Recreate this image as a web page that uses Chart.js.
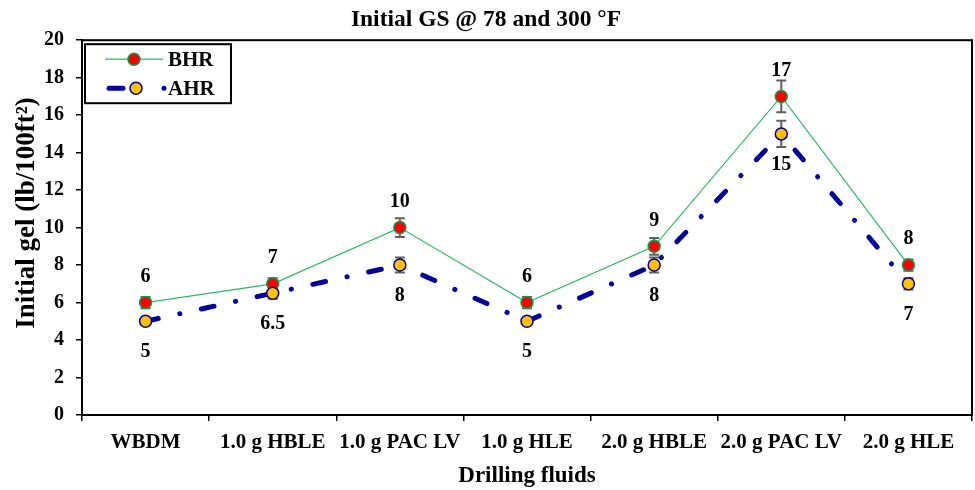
<!DOCTYPE html>
<html>
<head>
<meta charset="utf-8">
<script src="https://cdn.jsdelivr.net/npm/chart.js@4"></script>
<style>
    html, body { margin: 0; padding: 0; background: #fff; overflow: hidden; }
    #wrap { width: 975px; height: 490px; }
</style>
</head>
<body>
<div id="wrap"><canvas id="gel-chart"></canvas></div>
<script>
// Chart data
const categories = ['WBDM', '1.0 g HBLE', '1.0 g PAC LV', '1.0 g HLE', '2.0 g HBLE', '2.0 g PAC LV', '2.0 g HLE'];
const bhrValues = [6, 7, 10, 6, 9, 17, 8];
const ahrValues = [5, 6.5, 8, 5, 8, 15, 7];
const bhrErrors = [0.3, 0.3, 0.5, 0.3, 0.45, 0.85, 0.3];
const ahrErrors = [0.2, 0.3, 0.4, 0.2, 0.4, 0.7, 0.3];
const yTicks = [0, 2, 4, 6, 8, 10, 12, 14, 16, 18, 20];

const FONT = 'Liberation Serif, Times New Roman, serif';
const AHR_DASH = [13, 22, 0.1, 22];

// Error bars, value labels, y title and legend box drawn on the canvas
const extrasPlugin = {
    id: 'extras',
    beforeDatasetsDraw(chart) {
        const ctx = chart.ctx;
        const y = chart.scales.y;
        ctx.save();
        ctx.strokeStyle = '#606060';
        ctx.lineWidth = 2;
        [[0, bhrErrors], [1, ahrErrors]].forEach(([idx, errs]) => {
            const meta = chart.getDatasetMeta(idx);
            meta.data.forEach((pt, i) => {
                const v = chart.data.datasets[idx].data[i];
                const top = y.getPixelForValue(v + errs[i]);
                const bot = y.getPixelForValue(v - errs[i]);
                ctx.beginPath();
                ctx.moveTo(pt.x, top); ctx.lineTo(pt.x, bot);
                ctx.moveTo(pt.x - 5, top); ctx.lineTo(pt.x + 5, top);
                ctx.moveTo(pt.x - 5, bot); ctx.lineTo(pt.x + 5, bot);
                ctx.stroke();
            });
        });
        ctx.restore();
    },
    afterDatasetsDraw(chart) {
        const ctx = chart.ctx;
        const area = chart.chartArea;
        ctx.save();
        ctx.font = 'bold 20px ' + FONT;
        ctx.fillStyle = '#000';
        ctx.textAlign = 'center';
        ctx.textBaseline = 'middle';
        chart.getDatasetMeta(0).data.forEach((pt, i) => {
            ctx.fillText(String(bhrValues[i]), pt.x, pt.y - 26);
        });
        chart.getDatasetMeta(1).data.forEach((pt, i) => {
            ctx.fillText(String(ahrValues[i]), pt.x, pt.y + 31);
        });

        // y axis title
        ctx.save();
        ctx.translate(27, 213);
        ctx.rotate(-Math.PI / 2);
        ctx.font = 'bold 27px ' + FONT;
        ctx.fillText('Initial gel (lb/100ft²)', 0, 0);
        ctx.restore();

        // plot frame
        ctx.strokeStyle = '#000';
        ctx.lineWidth = 2;
        ctx.strokeRect(area.left, area.top, area.right - area.left, area.bottom - area.top);

        // legend box
        const lx = area.left + 3, ly = area.top + 4;
        ctx.lineWidth = 2;
        ctx.strokeRect(lx, ly, 146, 59);
        // BHR row
        ctx.strokeStyle = '#2EBB5E';
        ctx.lineWidth = 1.2;
        ctx.beginPath();
        ctx.moveTo(lx + 20, ly + 15); ctx.lineTo(lx + 78, ly + 15);
        ctx.stroke();
        ctx.beginPath();
        ctx.arc(lx + 49, ly + 15, 6, 0, Math.PI * 2);
        ctx.fillStyle = '#FF0000';
        ctx.fill();
        ctx.strokeStyle = '#00A050';
        ctx.lineWidth = 1.5;
        ctx.stroke();
        // AHR row
        ctx.strokeStyle = '#000099';
        ctx.lineWidth = 5;
        ctx.lineCap = 'round';
        ctx.beginPath();
        ctx.moveTo(lx + 24, ly + 44); ctx.lineTo(lx + 38, ly + 44);
        ctx.stroke();
        ctx.beginPath();
        ctx.arc(lx + 79, ly + 44, 2.5, 0, Math.PI * 2);
        ctx.fillStyle = '#000099';
        ctx.fill();
        ctx.beginPath();
        ctx.arc(lx + 51, ly + 44, 6, 0, Math.PI * 2);
        ctx.fillStyle = '#FFC000';
        ctx.fill();
        ctx.lineWidth = 1.5;
        ctx.stroke();

        ctx.fillStyle = '#000';
        ctx.textAlign = 'left';
        ctx.font = 'bold 21px ' + FONT;
        ctx.fillText('BHR', lx + 83, ly + 16);
        ctx.fillText('AHR', lx + 83, ly + 45);
        ctx.restore();
    }
};

const ctx = document.getElementById('gel-chart').getContext('2d');
new Chart(ctx, {
    type: 'line',
    data: {
        labels: categories,
        datasets: [{
            label: 'BHR',
            data: bhrValues,
            borderColor: '#2EBB5E',
            borderWidth: 1.2,
            pointBackgroundColor: '#FF0000',
            pointBorderColor: '#00A050',
            pointBorderWidth: 1.5,
            pointRadius: 6,
            tension: 0,
            order: 2
        }, {
            label: 'AHR',
            data: ahrValues,
            borderColor: '#000099',
            borderWidth: 5,
            borderDash: AHR_DASH,
            borderCapStyle: 'round',
            pointBackgroundColor: '#FFC000',
            pointBorderColor: '#000099',
            pointBorderWidth: 1.5,
            pointRadius: 6,
            tension: 0,
            order: 1
        }]
    },
    options: {
        responsive: true,
        maintainAspectRatio: false,
        animation: false,
        layout: { autoPadding: false, padding: { left: 0, right: 3, top: 0, bottom: 0 } },
        plugins: {
            legend: { display: false },
            tooltip: { enabled: false },
            title: {
                display: true,
                text: 'Initial GS @ 78 and 300 °F',
                color: '#000',
                font: { family: FONT, size: 23.5, weight: 'bold' },
                padding: { top: 6, bottom: 6 }
            }
        },
        scales: {
            x: {
                type: 'category',
                offset: true,
                border: { display: true, color: '#000', width: 2 },
                grid: {
                    offset: true,
                    drawOnChartArea: false,
                    drawTicks: true,
                    tickLength: 6,
                    color: '#000',
                    lineWidth: 1.5
                },
                ticks: {
                    color: '#000',
                    padding: 9,
                    maxRotation: 0,
                    autoSkip: false,
                    font: { family: FONT, size: 21, weight: 'bold' }
                },
                title: {
                    display: true,
                    text: 'Drilling fluids',
                    color: '#000',
                    font: { family: FONT, size: 23, weight: 'bold' },
                    padding: { top: 0, bottom: 0 }
                },
                afterFit(scale) {
                    scale.height = 75;
                    scale.paddingLeft = 0;
                    scale.paddingRight = 0;
                }
            },
            y: {
                min: 0,
                max: 20,
                afterBuildTicks(scale) { scale.ticks = yTicks.map(v => ({ value: v })); },
                border: { display: true, color: '#000', width: 2 },
                grid: {
                    drawOnChartArea: false,
                    drawTicks: true,
                    tickLength: 6,
                    color: '#000',
                    lineWidth: 1.5
                },
                ticks: {
                    color: '#000',
                    padding: 12,
                    font: { family: FONT, size: 20, weight: 'bold' }
                },
                title: { display: false },
                afterFit(scale) { scale.width = 82; }
            }
        }
    },
    plugins: [extrasPlugin]
});
</script>
</body>
</html>
